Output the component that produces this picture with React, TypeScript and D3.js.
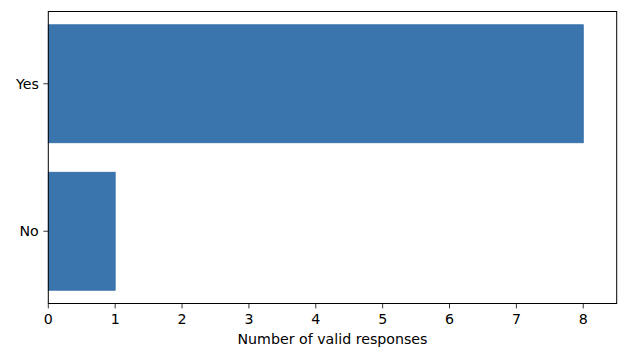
import React from "react";
import * as d3 from "d3";

const categories = ["Yes", "No"];
const values = [8, 1];
const xTicks = [0, 1, 2, 3, 4, 5, 6, 7, 8];
const xLabel = "Number of valid responses";

export default function App() {
  const W = 640, H = 358;
  const left = 48.3, right = 616.7, top = 11.5, bottom = 303.5;
  const x = d3.scaleLinear().domain([0, 8.5]).range([left, right]);
  const y = d3.scaleLinear().domain([-0.49, 1.49]).range([top, bottom]);
  const bw = 0.8;
  const font = "DejaVu Sans, sans-serif";
  const fs = 14.2;
  return (
    <svg width={W} height={H} style={{ position: "absolute", left: 0, top: 0, background: "#fff" }}>
      {categories.map((c, i) => (
        <rect key={c} x={x(0)} y={y(i - bw / 2)} width={x(values[i]) - x(0)} height={y(i + bw / 2) - y(i - bw / 2)}
          fill="#3a75ae" stroke="#2f6aa3" strokeWidth={0.8} />
      ))}
      <rect x={left} y={top} width={right - left} height={bottom - top} fill="none" stroke="#000" strokeWidth={1} />
      {xTicks.map(t => (
        <g key={t}>
          <line x1={x(t)} x2={x(t)} y1={bottom} y2={bottom + 4.9} stroke="#000" strokeWidth={0.8} />
          <text x={x(t)} y={bottom + 20.5} textAnchor="middle" fontFamily={font} fontSize={fs} fill="#000">{t}</text>
        </g>
      ))}
      {categories.map((c, i) => (
        <g key={c}>
          <line x1={left - 4.9} x2={left} y1={y(i)} y2={y(i)} stroke="#000" strokeWidth={0.8} />
          <text x={left - 9.5} y={y(i)} dy="0.35em" textAnchor="end" fontFamily={font} fontSize={fs} fill="#000">{c}</text>
        </g>
      ))}
      <text x={(left + right) / 2} y={344} textAnchor="middle" fontFamily={font} fontSize={fs} fill="#000">{xLabel}</text>
    </svg>
  );
}
